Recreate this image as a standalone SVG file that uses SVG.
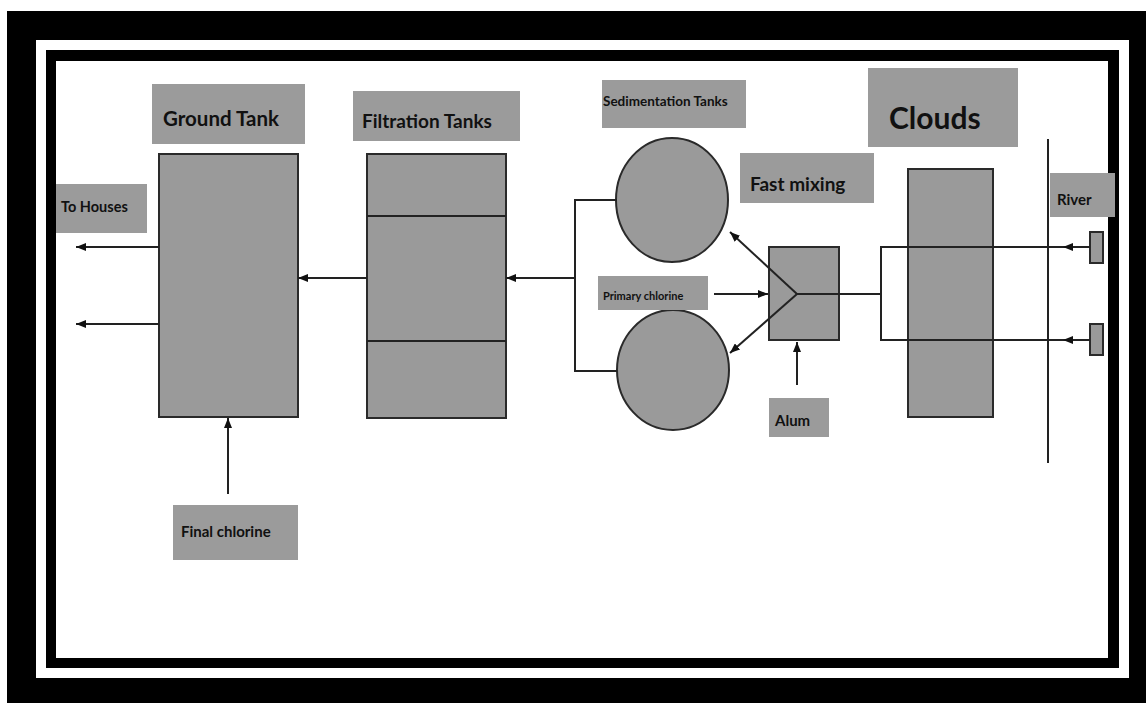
<svg xmlns="http://www.w3.org/2000/svg" width="1146" height="703" viewBox="0 0 1146 703">
<style>
.lbl{fill:#9b9b9b}
.tank{fill:#9a9a9a;stroke:#2a2a2a;stroke-width:2}
.t{font-family:Lato,"Liberation Sans",sans-serif;font-weight:bold;fill:#111}
.ln{stroke:#222;stroke-width:2;fill:none}
.ar{stroke:#222;stroke-width:2;fill:none;marker-end:url(#arr)}
</style>
<defs>
<marker id="arr" viewBox="0 0 10 8" refX="10" refY="4" markerWidth="10" markerHeight="8" orient="auto" markerUnits="userSpaceOnUse">
<path d="M0,0 L10,4 L0,8 z" fill="#111"/>
</marker>
</defs>
<g id="frame">
<rect x="0" y="0" width="1146" height="703" fill="#fff"/>
<rect x="7" y="11" width="1139" height="692" fill="#000"/>
<rect x="36" y="40" width="1093" height="638" fill="#fff"/>
<rect x="46" y="50" width="1073" height="618" fill="#000"/>
<rect x="56" y="61" width="1052" height="597" fill="#fff"/>
</g>
<g id="ground-tank">
<rect class="lbl" x="152" y="84" width="153" height="60"/>
<text class="t" x="163" y="126" font-size="20.5">Ground Tank</text>
<rect class="tank" x="159" y="154" width="139" height="263"/>
</g>
<g id="to-houses">
<rect class="lbl" x="56" y="184" width="91" height="49"/>
<text class="t" x="61" y="212" font-size="14.5">To Houses</text>
</g>
<g id="final-chlorine">
<rect class="lbl" x="173" y="505" width="125" height="55"/>
<text class="t" x="181" y="537" font-size="15">Final chlorine</text>
</g>
<g id="filtration-tanks">
<rect class="lbl" x="353" y="91" width="167" height="50"/>
<text class="t" x="362" y="128" font-size="19">Filtration Tanks</text>
<rect class="tank" x="367" y="154" width="139" height="264"/>
<line class="ln" x1="367" y1="216" x2="506" y2="216"/>
<line class="ln" x1="367" y1="341" x2="506" y2="341"/>
</g>
<g id="sedimentation-tanks">
<rect class="lbl" x="602" y="80" width="144" height="48"/>
<text class="t" x="603" y="106" font-size="13.5">Sedimentation Tanks</text>
<ellipse class="tank" cx="672" cy="200" rx="56" ry="62"/>
<ellipse class="tank" cx="673" cy="370" rx="56" ry="60"/>
</g>
<g id="fast-mixing">
<rect class="lbl" x="740" y="153" width="134" height="50"/>
<text class="t" x="750" y="191" font-size="19">Fast mixing</text>
<rect class="tank" x="769" y="247" width="70" height="93"/>
</g>
<g id="primary-chlorine">
<rect class="lbl" x="598" y="276" width="110" height="34"/>
<text class="t" x="603" y="300" font-size="11">Primary chlorine</text>
</g>
<g id="alum">
<rect class="lbl" x="769" y="398" width="60" height="39"/>
<text class="t" x="775" y="426" font-size="15">Alum</text>
</g>
<g id="clouds">
<rect class="lbl" x="868" y="68" width="150" height="79"/>
<text class="t" x="889" y="129" font-size="30">Clouds</text>
<rect class="tank" x="908" y="169" width="85" height="248"/>
</g>
<g id="river">
<line class="ln" x1="1048" y1="139" x2="1048" y2="463"/>
<rect class="lbl" x="1050" y="173" width="65" height="44"/>
<text class="t" x="1057" y="205" font-size="15">River</text>
<rect class="tank" x="1090" y="232" width="13" height="31"/>
<rect class="tank" x="1090" y="324" width="13" height="31"/>
</g>
<g id="connectors">
<line class="ar" x1="159" y1="247" x2="76" y2="247"/>
<line class="ar" x1="159" y1="324" x2="76" y2="324"/>
<line class="ar" x1="228" y1="494" x2="228" y2="418"/>
<line class="ar" x1="367" y1="278" x2="298" y2="278"/>
<line class="ar" x1="575" y1="278" x2="506" y2="278"/>
<path class="ln" d="M617,200 H575 V371 H617"/>
<line class="ar" x1="797" y1="294" x2="730" y2="232"/>
<line class="ar" x1="797" y1="294" x2="730" y2="353"/>
<line class="ar" x1="714" y1="294" x2="768" y2="294"/>
<line class="ar" x1="797" y1="385" x2="797" y2="342"/>
<line class="ln" x1="797" y1="294" x2="881" y2="294"/>
<path class="ln" d="M1063,247 H881 V340 H1063"/>
<line class="ar" x1="1090" y1="247" x2="1063" y2="247"/>
<line class="ar" x1="1090" y1="340" x2="1063" y2="340"/>
</g>
</svg>
